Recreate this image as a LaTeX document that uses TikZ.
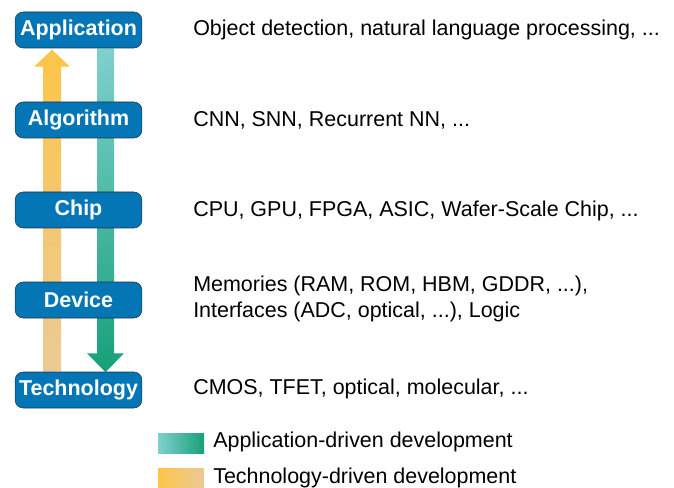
\documentclass[tikz,border=0pt]{standalone}
\usepackage{fontspec}
\setmainfont{Liberation Sans}
\usetikzlibrary{calc}
\usetikzlibrary{backgrounds}
\usepackage{xcolor}
\definecolor{boxblue}{RGB}{4,118,182}
\definecolor{boxline}{RGB}{30,50,70}
\definecolor{yeltop}{RGB}{252,197,74}
\definecolor{yelbot}{RGB}{236,202,150}
\definecolor{teatop}{RGB}{128,208,205}
\definecolor{teabot}{RGB}{22,160,122}

\begin{document}
\begin{tikzpicture}[x=0.75pt, y=-0.75pt,
		b/.style = {rectangle, rounded corners=6pt, draw=boxline, fill=boxblue, thin, minimum width=95pt, minimum height=27pt, inner sep=0, text=white, font=\fontsize{16.1}{18}\selectfont\bfseries},
		t/.style = {anchor=west, inner sep=0, align=left, font=\fontsize{16.1}{19.5}\selectfont},
		sw/.style = {rectangle, minimum width=34.5pt, minimum height=14.5pt, inner sep=0}
		]
		\useasboundingbox (0,0) rectangle (674,488);
		
		%Nodes
		\node[b]	(app)	at	(78.5, 30)	{Application};
		\node[b]	(alg)	at	(78.5, 120)	{Algorithm};
		\node[b]	(chip)	at	(78.5, 210)	{Chip};
		\node[b]	(dev)	at	(78.5, 300)	{Device};
		\node[b]	(tech)	at	(78.5, 390)	{Technology};
		
		\node[t]	(appT)	at	(193, 30)	{Object detection, natural language processing, ...};
		\node[t]	(algT)	at	(193, 120)	{CNN, SNN, Recurrent NN, ...};
		\node[t]	(chipT)	at	(193, 211)	{CPU, GPU, FPGA, ASIC, Wafer-Scale Chip, ...};
		\node[t]	(devT)	at	(193, 299)	{Memories (RAM, ROM, HBM, GDDR, ...),\\Interfaces (ADC, optical, ...), Logic};
		\node[t]	(techT)	at	(193, 389)	{CMOS, TFET, optical, molecular, ...};
		
		%Legend
		\node[sw, left color=teatop, right color=teabot]	(legA)	at	(181, 443.5)	{};
		\node[t]	(legAT)	at	(213, 442)	{Application-driven development};
		\node[sw, left color=yeltop, right color=yelbot]	(legT)	at	(181, 478.5)	{};
		\node[t]	(legTT)	at	(213, 478)	{Technology-driven development};
		
		%Arrows
		\begin{scope}[on background layer]
			\shade[top color=yeltop, bottom color=yelbot]	($(tech.north)+(-35.5, 0)$) -- ++(0, -305) -- ++(-9, 0) -- ++(18, -17) -- ++(18, 17) -- ++(-9, 0) -- ++(0, 305) -- cycle;
			\shade[top color=teatop, bottom color=teabot]	($(app.south)+(18.5, 0)$) -- ++(0, 305) -- ++(-10, 0) -- ++(18.5, 19) -- ++(18.5, -19) -- ++(-10, 0) -- ++(0, -305) -- cycle;
		\end{scope}
	\end{tikzpicture}
\end{document}
